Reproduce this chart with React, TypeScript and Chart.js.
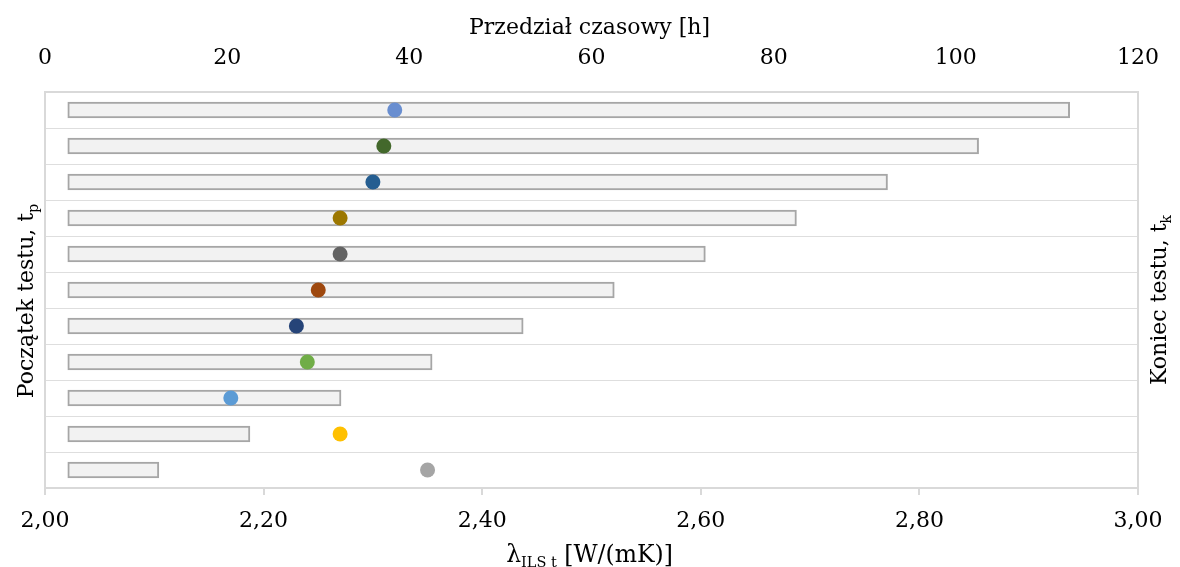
import React, { useEffect, useRef } from 'react';
import { Chart, registerables } from 'chart.js';

Chart.register(...registerables);

// ---- data ----
const rowLabels = ['1', '2', '3', '4', '5', '6', '7', '8', '9', '10', '11'];
const startHours = [2.5, 2.5, 2.5, 2.5, 2.5, 2.5, 2.5, 2.5, 2.5, 2.5, 2.5];
const endHours = [112.5, 102.5, 92.5, 82.5, 72.5, 62.5, 52.5, 42.5, 32.5, 22.5, 12.5];
const lambdaValues = [2.32, 2.31, 2.3, 2.27, 2.27, 2.25, 2.23, 2.24, 2.17, 2.27, 2.35];
const pointColors = [
  '#698ED0', '#43682B', '#255E91', '#9C7700', '#636363', '#9E480E',
  '#264478', '#70AD47', '#5B9BD5', '#FFC000', '#A5A5A5',
];

const topTitle = [{ text: 'Przedział czasowy [h]' }];
const bottomTitle = [{ text: 'λ' }, { text: 'ILS t', sub: true }, { text: ' [W/(mK)]' }];
const leftTitle = [{ text: 'Początek testu, t' }, { text: 'p', sub: true }];
const rightTitle = [{ text: 'Koniec testu, t' }, { text: 'k', sub: true }];

const FAMILY = '"DejaVu Serif", serif';

type Part = { text: string; sub?: boolean };

function drawRich(
  ctx: CanvasRenderingContext2D,
  parts: Part[],
  cx: number,
  baseline: number,
  mainSize = 22,
  subSize = 14,
) {
  const mainFont = `${mainSize}px ${FAMILY}`;
  const subFont = `${subSize}px ${FAMILY}`;
  let w = 0;
  for (const p of parts) {
    ctx.font = p.sub ? subFont : mainFont;
    w += ctx.measureText(p.text).width;
  }
  let x = cx - w / 2;
  for (const p of parts) {
    ctx.font = p.sub ? subFont : mainFont;
    ctx.fillText(p.text, x, baseline + (p.sub ? 5 : 0));
    x += ctx.measureText(p.text).width;
  }
}

const titlesPlugin = {
  id: 'richTitles',
  afterDraw(chart: any) {
    const ctx: CanvasRenderingContext2D = chart.ctx;
    const ca = chart.chartArea;
    const cx = (ca.left + ca.right) / 2 - 2;
    const cy = (ca.top + ca.bottom) / 2 + 11;
    ctx.save();
    ctx.fillStyle = '#000';
    ctx.textAlign = 'left';
    ctx.textBaseline = 'alphabetic';
    drawRich(ctx, topTitle, cx, 34);
    drawRich(ctx, bottomTitle, cx, 562, 23.5, 14.5);

    ctx.save();
    ctx.translate(33, cy);
    ctx.rotate(-Math.PI / 2);
    drawRich(ctx, leftTitle, 0, 0);
    ctx.restore();

    ctx.save();
    ctx.translate(1166, cy - 1);
    ctx.rotate(-Math.PI / 2);
    drawRich(ctx, rightTitle, 0, 0);
    ctx.restore();

    ctx.restore();
  },
};

export default function App() {
  const ref = useRef<HTMLCanvasElement | null>(null);

  useEffect(() => {
    if (!ref.current) return;
    const tickFont = { family: FAMILY, size: 22 };
    const chart = new Chart(ref.current, {
      data: {
        labels: rowLabels,
        datasets: [
          {
            type: 'bar',
            indexAxis: 'y',
            data: rowLabels.map((_, i) => [startHours[i], endHours[i]]),
            xAxisID: 'xTop',
            yAxisID: 'y',
            backgroundColor: '#f2f2f2',
            borderColor: '#a6a6a6',
            borderWidth: 2,
            borderSkipped: false,
            barThickness: 16,
            grouped: false,
            order: 2,
          } as any,
          {
            type: 'scatter',
            data: rowLabels.map((l, i) => ({ x: lambdaValues[i], y: l })),
            xAxisID: 'x',
            yAxisID: 'y',
            pointRadius: 7.5,
            pointHoverRadius: 7.5,
            pointBackgroundColor: pointColors,
            pointBorderWidth: 0,
            showLine: false,
            order: 1,
          } as any,
        ],
      },
      options: {
        responsive: false,
        animation: false,
        maintainAspectRatio: false,
        layout: { padding: 0 },
        plugins: {
          legend: { display: false },
          tooltip: { enabled: false },
          title: { display: false },
        },
        scales: {
          x: {
            type: 'linear',
            axis: 'x',
            position: 'bottom',
            offset: false,
            min: 2,
            max: 3,
            ticks: {
              stepSize: 0.2,
              font: tickFont,
              color: '#000',
              padding: 13,
              maxRotation: 0,
              autoSkip: false,
              callback: (v: any) => Number(v).toFixed(2).replace('.', ','),
            },
            grid: {
              display: true,
              offset: false,
              drawOnChartArea: false,
              drawTicks: true,
              tickLength: 7,
              color: '#d9d9d9',
              lineWidth: 2,
            },
            border: { display: true, color: '#d9d9d9', width: 2 },
            afterFit: (s: any) => {
              s.height = 79;
            },
          },
          xTop: {
            type: 'linear',
            axis: 'x',
            position: 'top',
            offset: false,
            min: 0,
            max: 120,
            ticks: {
              stepSize: 20,
              font: tickFont,
              color: '#000',
              padding: 21,
              maxRotation: 0,
              autoSkip: false,
            },
            grid: { display: true, offset: false, drawOnChartArea: false, drawTicks: false },
            border: { display: true, color: '#d9d9d9', width: 2 },
            afterFit: (s: any) => {
              s.height = 92;
            },
          },
          y: {
            type: 'category',
            axis: 'y',
            position: 'left',
            offset: true,
            ticks: { display: false },
            grid: { offset: true, color: '#dedede', lineWidth: 1, drawTicks: false },
            border: { display: true, color: '#d9d9d9', width: 2 },
            afterFit: (s: any) => {
              s.width = 45;
            },
          },
          yRight: {
            type: 'linear',
            axis: 'y',
            position: 'right',
            min: 0,
            max: 1,
            ticks: { display: false },
            grid: { display: true, drawOnChartArea: false, drawTicks: false },
            border: { display: true, color: '#d9d9d9', width: 2 },
            afterFit: (s: any) => {
              s.width = 41;
            },
          },
        } as any,
      },
      plugins: [titlesPlugin],
    } as any);
    return () => chart.destroy();
  }, []);

  return (
    <div style={{ position: 'absolute', left: 0, top: 0, width: 1180, height: 567, background: '#fff' }}>
      <canvas ref={ref} width={1180} height={567} />
    </div>
  );
}
